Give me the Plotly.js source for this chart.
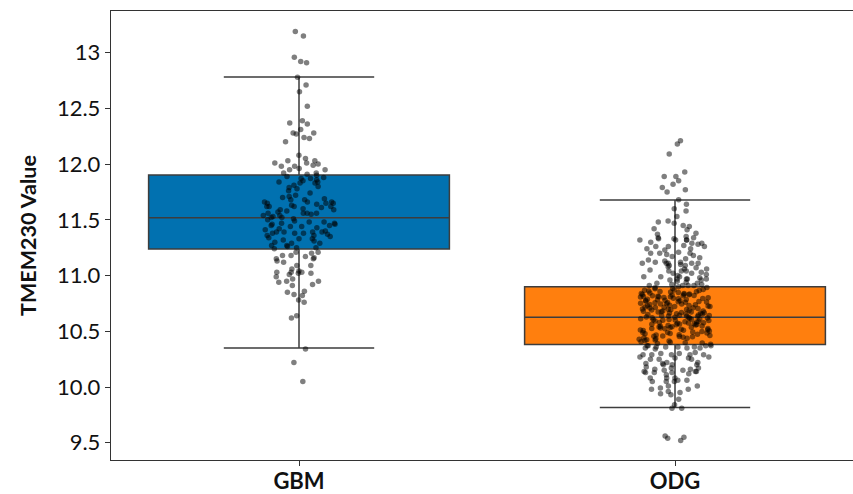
<!DOCTYPE html>
<html>
<head>
<meta charset="utf-8">
<script src="https://cdn.plot.ly/plotly-3.0.1.min.js"></script>
<style>
html,body{margin:0;padding:0;background:#fff;overflow:hidden;}
#chart{width:865px;height:494px;}
</style>
</head>
<body>
<div id="chart"></div>
<script>
// ---- data ----
const categories = ['GBM', 'ODG'];

// box statistics per category
const q1Values = [11.238, 10.382];
const medianValues = [11.519, 10.625];
const q3Values = [11.902, 10.900];
const lowerFences = [10.349, 9.817];
const upperFences = [12.782, 11.678];

// individual sample points
const gbmValues = [
  13.15, 13.19, 12.92, 12.91, 12.96, 12.78, 12.71, 12.65, 12.52, 12.37, 12.36, 12.39, 12.31, 12.28, 12.28,
  12.24, 12.27, 12.23, 12.20, 12.08, 12.05, 12.03, 12.00, 12.01, 11.99, 11.98, 11.96, 11.98, 12.03, 12.01,
  11.95, 11.92, 11.92, 11.91, 11.95,
  11.83, 11.72, 11.69, 11.74, 11.87, 11.86, 11.84, 11.81, 11.87, 11.84, 11.83, 11.90, 11.89, 11.78, 11.65,
  11.66, 11.66, 11.59, 11.62, 11.62, 11.59, 11.65, 11.62, 11.65, 11.62, 11.66, 11.68, 11.68, 11.60, 11.56,
  11.55, 11.54, 11.56, 11.56, 11.54, 11.56, 11.51, 11.50,
  11.42, 11.39, 11.36, 11.34, 11.44, 11.39, 11.33, 11.30, 11.29, 11.40, 11.47, 11.41, 11.36, 11.33, 11.29,
  11.45, 11.44, 11.45, 11.48, 11.39, 11.38, 11.38, 11.38, 11.47, 11.48, 11.32, 11.39, 11.25, 11.27, 11.24, 11.25,
  11.88, 11.80, 11.76, 11.71, 11.63, 11.58, 11.53, 11.52, 11.49, 11.46, 11.43, 11.35, 11.31, 11.27, 11.70,
  11.61, 11.57, 11.85, 11.79, 11.46, 11.37, 11.26, 11.52, 11.64,
  11.21, 11.16, 11.15, 11.12, 11.17, 11.15, 11.20, 11.18, 11.21, 11.18, 11.13, 11.09, 11.06, 11.02, 11.02,
  11.01, 10.99, 10.97, 10.94, 10.95, 11.03, 11.04, 11.03, 11.03, 11.09, 10.95, 10.92, 10.86, 10.91, 10.85,
  10.82, 10.83, 10.78, 10.76, 10.62, 10.64, 10.34, 10.22, 10.05
];

const odgValues = [
  12.21, 12.18, 12.09, 11.93, 11.89, 11.89, 11.85, 11.82, 11.79, 11.77, 11.75, 11.64, 11.68, 11.60, 11.58,
  11.53, 11.49, 11.48, 11.45, 11.47, 11.44, 11.41, 11.37, 11.34, 11.33, 11.32, 11.28, 11.26, 11.29, 11.29,
  11.26, 11.33, 11.32, 11.34, 11.32, 11.35, 11.27, 11.32, 11.30, 11.24, 11.23, 11.24, 11.19, 11.20, 11.18,
  11.26, 11.20, 11.20, 11.21, 11.17, 11.15, 11.13, 11.09, 11.08, 11.11, 11.11, 11.12, 11.11, 11.09, 11.11,
  11.11, 11.12, 11.14, 11.06, 11.06, 11.02, 11.03, 11.04, 11.02, 11.04, 11.04, 10.96, 10.97, 10.94, 10.97,
  10.98, 10.99, 10.97, 10.99, 10.97, 11.00, 10.99, 10.91, 10.91, 10.90, 10.92, 10.91, 10.93, 10.91, 10.92,
  11.38, 11.42, 11.16, 11.07, 11.01, 10.95, 10.93, 10.96, 11.05, 11.10,
  10.893, 10.881, 10.876, 10.869, 10.858, 10.852, 10.847, 10.884, 10.862, 10.839, 10.871, 10.855, 10.890, 10.866, 10.843,
  10.834, 10.826, 10.818, 10.811, 10.803, 10.829, 10.815, 10.807, 10.822, 10.838, 10.801, 10.813, 10.827, 10.819, 10.832, 10.809,
  10.795, 10.788, 10.779, 10.771, 10.763, 10.756, 10.782, 10.768, 10.791, 10.752, 10.775, 10.760, 10.786, 10.797, 10.765, 10.773, 10.758,
  10.748, 10.741, 10.733, 10.726, 10.719, 10.712, 10.704, 10.737, 10.722, 10.745, 10.708, 10.729, 10.716, 10.701, 10.744, 10.731, 10.714, 10.723,
  10.698, 10.691, 10.683, 10.676, 10.668, 10.661, 10.654, 10.687, 10.672, 10.695, 10.658, 10.679, 10.664, 10.651, 10.693, 10.681, 10.667, 10.656, 10.674,
  10.647, 10.639, 10.632, 10.624, 10.617, 10.609, 10.602, 10.635, 10.621, 10.644, 10.606, 10.628, 10.613, 10.641, 10.619, 10.603, 10.637, 10.626, 10.611,
  10.596, 10.588, 10.579, 10.571, 10.563, 10.556, 10.584, 10.568, 10.592, 10.553, 10.575, 10.561, 10.586, 10.598, 10.566, 10.577, 10.559,
  10.548, 10.541, 10.533, 10.526, 10.518, 10.509, 10.502, 10.537, 10.522, 10.545, 10.506, 10.529, 10.514, 10.539, 10.511, 10.524,
  10.497, 10.489, 10.481, 10.473, 10.466, 10.458, 10.451, 10.485, 10.469, 10.493, 10.455, 10.477, 10.462, 10.488, 10.453,
  10.446, 10.438, 10.429, 10.421, 10.413, 10.406, 10.398, 10.391, 10.384, 10.434, 10.417, 10.402, 10.442, 10.425, 10.395,
  10.37, 10.36, 10.35, 10.37, 10.36, 10.35, 10.37, 10.34, 10.36, 10.37, 10.35, 10.36,
  10.29, 10.27, 10.29, 10.25, 10.26, 10.29, 10.31, 10.30, 10.27, 10.25, 10.26, 10.29, 10.25, 10.29, 10.30,
  10.21, 10.18, 10.20, 10.20, 10.17, 10.22, 10.20, 10.16, 10.21, 10.17, 10.16, 10.22,
  10.15, 10.12, 10.14, 10.13, 10.11, 10.14, 10.13, 10.14, 10.13, 10.15,
  10.08, 10.06, 10.06, 10.05, 10.01, 10.08, 10.05, 10.05, 10.08,
  9.96, 9.98, 10.01, 9.98, 9.99, 9.94, 9.93, 9.95,
  9.89, 9.81, 9.84, 9.81, 9.52, 9.54, 9.55, 9.56
];
const sampleValues = [gbmValues, odgValues];

const yTickVals = [9.5, 10.0, 10.5, 11.0, 11.5, 12.0, 12.5, 13.0];
const yTickText = ['9.5', '10.0', '10.5', '11.0', '11.5', '12.0', '12.5', '13'];

// ---- styling ----
const boxColors = ['#0171b0', '#ff7f0e'];
const edgeColor = '#3d3d3d';
const FONT = 'Lato, "Open Sans", sans-serif';

const traces = [];
categories.forEach((cat, i) => {
  traces.push({
    type: 'box',
    x: [cat],
    q1: [q1Values[i]],
    median: [medianValues[i]],
    q3: [q3Values[i]],
    lowerfence: [lowerFences[i]],
    upperfence: [upperFences[i]],
    boxpoints: false,
    width: 0.8,
    whiskerwidth: 0.5,
    fillcolor: boxColors[i],
    line: {color: edgeColor, width: 1.5},
    showlegend: false,
    hoverinfo: 'skip'
  });
});
categories.forEach((cat, i) => {
  traces.push({
    type: 'box',
    y: sampleValues[i],
    x0: cat,
    boxpoints: 'all',
    jitter: 0.24,
    pointpos: 0,
    width: 0.8,
    whiskerwidth: 0,
    fillcolor: 'rgba(0,0,0,0)',
    line: {color: 'rgba(0,0,0,0)', width: 0},
    marker: {color: 'rgba(0,0,0,0.5)', size: 5.5, line: {width: 0}},
    showlegend: false
  });
});

const layout = {
  width: 865,
  height: 494,
  margin: {l: 111, r: 2, t: 11, b: 34},
  paper_bgcolor: '#ffffff',
  plot_bgcolor: '#ffffff',
  boxmode: 'overlay',
  showlegend: false,
  font: {family: FONT, color: '#111111'},
  xaxis: {
    type: 'category',
    categoryorder: 'array',
    categoryarray: categories,
    range: [-0.5, 1.5],
    showline: true,
    mirror: true,
    linecolor: '#333333',
    linewidth: 1.2,
    ticks: 'outside',
    ticklen: 5,
    tickcolor: '#333333',
    ticklabelstandoff: -4,
    tickfont: {family: FONT, size: 22, weight: 'bold', color: '#111111'},
    showgrid: false,
    zeroline: false
  },
  yaxis: {
    range: [9.345, 13.374],
    tickmode: 'array',
    tickvals: yTickVals,
    ticktext: yTickText,
    showline: true,
    mirror: true,
    linecolor: '#333333',
    linewidth: 1.2,
    ticks: 'outside',
    ticklen: 5,
    tickcolor: '#333333',
    tickfont: {family: FONT, size: 22, color: '#111111'},
    showgrid: false,
    zeroline: false,
    title: {text: 'TMEM230 Value', font: {family: FONT, size: 21.5, weight: 'bold', color: '#111111'}, standoff: 14}
  }
};

Plotly.newPlot('chart', traces, layout, {displayModeBar: false, staticPlot: true});
</script>
</body>
</html>
